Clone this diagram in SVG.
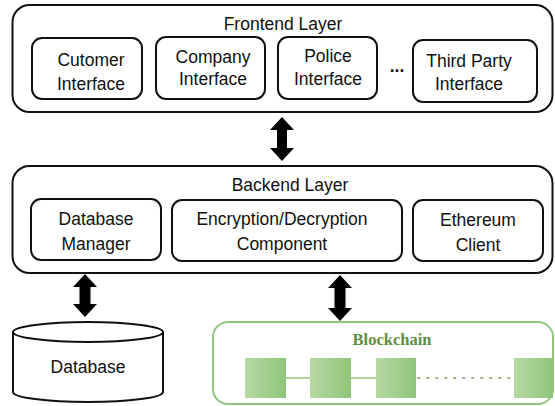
<svg xmlns="http://www.w3.org/2000/svg" width="555" height="406" viewBox="0 0 555 406">
<defs>
<linearGradient id="blk" x1="0" y1="0" x2="1" y2="0">
<stop offset="0" stop-color="#b7d9a3"/>
<stop offset="1" stop-color="#8fc57b"/>
</linearGradient>
<style>
.outer{fill:#fff;stroke:#111;stroke-width:2}
.box{fill:#fff;stroke:#111;stroke-width:2}
.t{font-family:"Liberation Sans",Arial,sans-serif;font-size:17.5px;fill:#111;text-anchor:middle}
.arrow{fill:#000}
.blk{fill:url(#blk)}
</style>
</defs>
<rect width="555" height="406" fill="#fff"/>

<g id="frontend">
<rect class="outer" x="12.5" y="5" width="540" height="107" rx="17"/>
<text class="t" x="283" y="30">Frontend Layer</text>
</g>
<g id="customer">
<rect class="box" x="32" y="38" width="110" height="61" rx="10"/>
<text class="t" x="91" y="66">Cutomer</text>
<text class="t" x="91" y="90">Interface</text>
</g>
<g id="company">
<rect class="box" x="156" y="37" width="109" height="62" rx="10"/>
<text class="t" x="213" y="63">Company</text>
<text class="t" x="213" y="85">Interface</text>
</g>
<g id="police">
<rect class="box" x="278" y="37" width="99" height="62" rx="10"/>
<text class="t" x="328" y="62">Police</text>
<text class="t" x="328" y="85">Interface</text>
</g>
<g id="ellipsis">
<text class="t" x="397" y="72" style="font-weight:bold">...</text>
</g>
<g id="thirdparty">
<rect class="box" x="413" y="40" width="124" height="62" rx="10"/>
<text class="t" x="469" y="67">Third Party</text>
<text class="t" x="469" y="90">Interface</text>
</g>

<g id="backend">
<rect class="outer" x="12.5" y="166" width="540" height="107" rx="17"/>
<text class="t" x="290" y="191">Backend Layer</text>
</g>
<g id="dbmanager">
<rect class="box" x="31" y="199" width="130" height="61" rx="10"/>
<text class="t" x="96" y="225">Database</text>
<text class="t" x="96" y="250">Manager</text>
</g>
<g id="encryption">
<rect class="box" x="172" y="200" width="230" height="61" rx="10"/>
<text class="t" x="282" y="225">Encryption/Decryption</text>
<text class="t" x="282" y="250">Component</text>
</g>
<g id="ethereum">
<rect class="box" x="413" y="200" width="130" height="61" rx="10"/>
<text class="t" x="478" y="226">Ethereum</text>
<text class="t" x="478" y="251">Client</text>
</g>

<g id="database">
<path d="M13,332 L13,392 A75,10 0 0 0 163,392 L163,332" fill="#fff" stroke="#111" stroke-width="2"/>
<ellipse cx="88" cy="332" rx="75" ry="10" fill="#fff" stroke="#111" stroke-width="2"/>
<text class="t" x="88" y="373">Database</text>
</g>

<g id="blockchain">
<rect x="213" y="322" width="340" height="82" rx="15" fill="#fff" stroke="#93c47d" stroke-width="2"/>
<text x="392" y="345" text-anchor="middle" font-family="'Liberation Serif','Times New Roman',serif" font-weight="bold" font-size="16.5" fill="#5f8f44">Blockchain</text>
<line x1="286" y1="378" x2="310" y2="378" stroke="#93c47d" stroke-width="1.5"/>
<line x1="351" y1="378" x2="376" y2="378" stroke="#93c47d" stroke-width="1.5"/>
<line x1="418" y1="378" x2="512" y2="378" stroke="#9ab58b" stroke-width="2" stroke-dasharray="1.5 7.5" stroke-linecap="round"/>
<rect class="blk" x="245" y="358" width="41" height="40"/>
<rect class="blk" x="310" y="358" width="41" height="40"/>
<rect class="blk" x="376" y="358" width="40" height="40"/>
<rect class="blk" x="514" y="358" width="39" height="40"/>
</g>

<g id="connectors">
<path class="arrow" d="M282,117 L294,130 L287,130 L287,148 L294,148 L282,161 L270,148 L277,148 L277,130 L270,130 Z"/>
<path class="arrow" d="M85,274 L97,287 L90.5,287 L90.5,304 L97,304 L85,317 L73,304 L79.5,304 L79.5,287 L73,287 Z"/>
<path class="arrow" d="M340,275 L352,288 L345.5,288 L345.5,308 L352,308 L340,321 L328,308 L334.5,308 L334.5,288 L328,288 Z"/>
</g>
</svg>
